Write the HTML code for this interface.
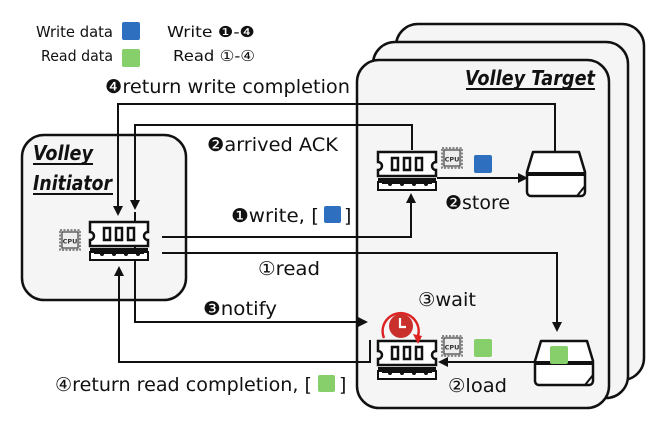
<!DOCTYPE html>
<html><head><meta charset="utf-8"><style>
html,body{margin:0;padding:0;background:#fff;}
svg{display:block;}
text{font-family:"DejaVu Sans","Liberation Sans",sans-serif;fill:#111;}
</style></head><body>
<svg width="657" height="425" viewBox="0 0 657 425" xmlns="http://www.w3.org/2000/svg">
<defs>
<marker id="ah" markerWidth="10" markerHeight="10" refX="8" refY="5" orient="auto" markerUnits="userSpaceOnUse">
<path d="M0,0 L10,5 L0,10 z" fill="#111"/></marker>
<g id="mem">
<path d="M0,0 H58 V10 a4,4 0 0 0 0,8 V24 H0 V18 a4,4 0 0 0 0,-8 z" fill="#fff" stroke="#111" stroke-width="2.5"/>
<rect x="14" y="6" width="6" height="12" fill="#fff" stroke="#111" stroke-width="2.5"/>
<rect x="26" y="6" width="6" height="12" fill="#fff" stroke="#111" stroke-width="2.5"/>
<rect x="38" y="6" width="6" height="12" fill="#fff" stroke="#111" stroke-width="2.5"/>
<rect x="0" y="26" width="58" height="3" fill="#111"/>
<path d="M0,30 H58 V38 H0 z" fill="#fff" stroke="#111" stroke-width="2"/>
<path d="M4,31 h50" stroke="#111" stroke-width="2"/>
<circle cx="12" cy="32" r="2" fill="#111"/><circle cx="24" cy="32" r="2" fill="#111"/><circle cx="36" cy="32" r="2" fill="#111"/><circle cx="48" cy="32" r="2" fill="#111"/>
</g>
<g id="cpu">
<rect x="2" y="2" width="20" height="20" fill="#ddd" stroke="#666" stroke-width="1.5" stroke-dasharray="2,1.5"/>
<rect x="4" y="4" width="16" height="16" fill="#eee" stroke="#444" stroke-width="1.2"/>
<text x="12" y="15.5" font-size="6.5" text-anchor="middle" font-weight="bold" style="fill:#333">CPU</text>
</g>
<g id="disk">
<path d="M6,0 H52 L58,20 V40 a4,4 0 0 1 -4,4 H4 a4,4 0 0 1 -4,-4 V20 z" fill="#fff" stroke="#111" stroke-width="2.5" stroke-linejoin="round"/>
<path d="M0,22 H58" stroke="#111" stroke-width="4"/>
<path d="M58,34 L50,44" stroke="#111" stroke-width="2"/>
</g>
</defs>

<!-- legend -->
<text x="36" y="37" font-size="15" textLength="77" lengthAdjust="spacingAndGlyphs">Write data</text>
<rect x="122" y="22" width="18" height="18" rx="2" fill="#2f6fc0"/>
<text x="41" y="61" font-size="15" textLength="72" lengthAdjust="spacingAndGlyphs">Read data</text>
<rect x="122" y="49" width="18" height="18" rx="2" fill="#86cf6a"/>
<text x="167" y="37" font-size="15" textLength="88" lengthAdjust="spacingAndGlyphs">Write ❶-❹</text>
<text x="173" y="61" font-size="15" textLength="82" lengthAdjust="spacingAndGlyphs">Read ①-④</text>

<!-- target boxes -->
<rect x="396" y="24" width="248" height="356" rx="22" fill="#f4f5f4" stroke="#111" stroke-width="2.5"/>
<rect x="373" y="42" width="255" height="356" rx="22" fill="#f4f5f4" stroke="#111" stroke-width="2.5"/>
<rect x="357" y="60" width="252" height="348" rx="22" fill="#f4f5f4" stroke="#111" stroke-width="2.5"/>
<text x="465" y="85" font-size="20" font-weight="bold" font-style="italic" textLength="130" lengthAdjust="spacingAndGlyphs">Volley Target</text>
<rect x="466" y="88" width="129" height="2" fill="#111"/>

<!-- initiator -->
<rect x="22" y="135" width="164" height="165" rx="22" fill="#f4f5f4" stroke="#111" stroke-width="2.5"/>
<text x="33" y="160" font-size="20" font-weight="bold" font-style="italic" textLength="60" lengthAdjust="spacingAndGlyphs">Volley</text>
<rect x="33" y="163" width="60" height="2" fill="#111"/>
<text x="33" y="190" font-size="20" font-weight="bold" font-style="italic" textLength="79" lengthAdjust="spacingAndGlyphs">Initiator</text>
<rect x="33" y="193" width="80" height="2" fill="#111"/>

<!-- connectors -->
<g fill="none" stroke="#111" stroke-width="2">
<path d="M555,152 V104 H118 V214" marker-end="url(#ah)"/>
<path d="M412,150 V125 H135 V208" marker-end="url(#ah)"/>
<path d="M135,212 V322 H366" marker-end="url(#ah)"/>
<path d="M162,237 H411 V195" marker-end="url(#ah)"/>
<path d="M162,253 H557 V330" marker-end="url(#ah)"/>
<path d="M370,340 V362 H119 V268" marker-end="url(#ah)"/>
<path d="M437,178 H526" marker-end="url(#ah)"/>
<path d="M535,362 H440" marker-end="url(#ah)"/>
</g>

<!-- icons -->
<use href="#mem" x="90" y="222"/>
<use href="#cpu" x="58" y="228"/>
<use href="#mem" x="378" y="152"/>
<use href="#cpu" x="440" y="146"/>
<rect x="474" y="155" width="18" height="18" rx="2" fill="#2f6fc0"/>
<use href="#disk" x="527" y="152"/>
<use href="#mem" x="378" y="341"/>
<use href="#cpu" x="440" y="334"/>
<rect x="474" y="339" width="18" height="18" rx="2" fill="#86cf6a"/>
<use href="#disk" x="535" y="341"/>
<rect x="550" y="346" width="18" height="18" rx="2" fill="#86cf6a"/>

<!-- clock -->
<path d="M384,338 A18,18 0 1 1 418,336" fill="none" stroke="#d22" stroke-width="2.5"/>
<path d="M413,334 L422,336 L418,344 z" fill="#d22"/>
<circle cx="401" cy="326" r="12" fill="#c9302c"/>
<path d="M400,318 V327 H406" stroke="#fff" stroke-width="2.2" fill="none"/>

<!-- labels -->
<g font-size="19">
<text x="105" y="93" textLength="245" lengthAdjust="spacingAndGlyphs">❹return write completion</text>
<text x="207" y="151" textLength="131" lengthAdjust="spacingAndGlyphs">❷arrived ACK</text>
<text x="231" y="222" textLength="88" lengthAdjust="spacingAndGlyphs">❶write, [</text>
<rect x="324" y="206" width="17" height="17" rx="2" fill="#2f6fc0"/>
<text x="344" y="222">]</text>
<text x="258" y="275" textLength="62" lengthAdjust="spacingAndGlyphs">①read</text>
<text x="203" y="315" textLength="74" lengthAdjust="spacingAndGlyphs">❸notify</text>
<text x="55" y="391" textLength="257" lengthAdjust="spacingAndGlyphs">④return read completion, [</text>
<rect x="318" y="375" width="17" height="17" rx="2" fill="#86cf6a"/>
<text x="339" y="391">]</text>
<text x="445" y="209" textLength="65" lengthAdjust="spacingAndGlyphs">❷store</text>
<text x="418" y="306" textLength="58" lengthAdjust="spacingAndGlyphs">③wait</text>
<text x="448" y="392" textLength="59" lengthAdjust="spacingAndGlyphs">②load</text>
</g>
</svg>
</body></html>
